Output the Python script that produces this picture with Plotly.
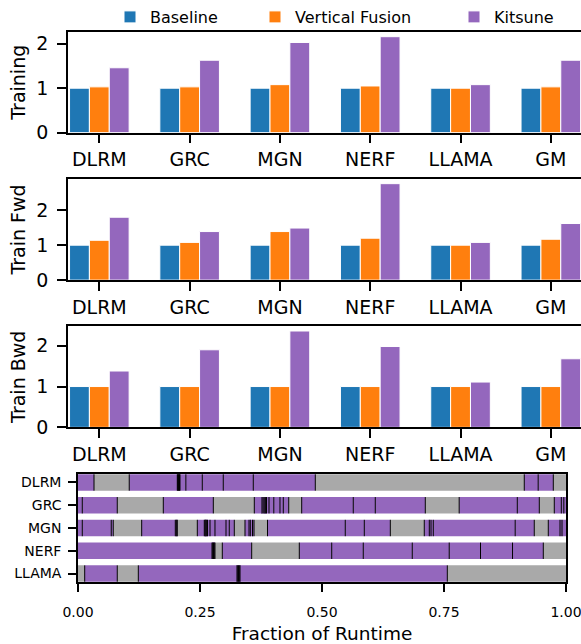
import plotly.graph_objects as go

# ---------------- data ----------------
models = ["DLRM", "GRC", "MGN", "NERF", "LLAMA", "GM"]
series = ["Baseline", "Vertical Fusion", "Kitsune"]

training_baseline = [1.00, 1.00, 1.00, 1.00, 1.00, 1.00]
training_vfusion = [1.03, 1.03, 1.08, 1.05, 1.00, 1.03]
training_kitsune = [1.46, 1.63, 2.03, 2.16, 1.08, 1.63]

fwd_baseline = [1.00, 1.00, 1.00, 1.00, 1.00, 1.00]
fwd_vfusion = [1.14, 1.08, 1.39, 1.20, 1.00, 1.17]
fwd_kitsune = [1.80, 1.39, 1.49, 2.76, 1.08, 1.62]

bwd_baseline = [1.00, 1.00, 1.00, 1.00, 1.00, 1.00]
bwd_vfusion = [1.00, 1.00, 1.00, 1.00, 1.00, 1.00]
bwd_kitsune = [1.38, 1.90, 2.36, 1.98, 1.11, 1.68]

panel_titles = ["Training", "Train Fwd", "Train Bwd"]
bar_yticks = [0, 1, 2]

# Runtime timeline: segment end points (fraction of runtime) and kind
# P = fused (Kitsune) region, G = other region
timeline_rows = ["DLRM", "GRC", "MGN", "NERF", "LLAMA"]
dlrm_ends = [0.0328, 0.105, 0.2035, 0.2046, 0.2057, 0.2068, 0.2079, 0.209,
             0.221, 0.2547, 0.2977, 0.3592, 0.4863, 0.9145, 0.943, 0.974, 1.0]
dlrm_kinds = "PGPPPPPPPPPPPGPPG"
grc_ends = [0.0088, 0.0805, 0.1748, 0.2773, 0.3613, 0.377, 0.3793, 0.3816,
            0.384, 0.3863, 0.3914, 0.4012, 0.4139, 0.4207, 0.4318, 0.4584,
            0.5641, 0.6092, 0.7117, 0.7811, 0.9002, 0.9453, 0.976, 0.9904,
            0.9955, 1.0]
grc_kinds = "PPGPGPPPPPPPPPPGPPPGPPGPPP"
mgn_ends = [0.0088, 0.0682, 0.0723, 0.1305, 0.1994, 0.2015, 0.2035, 0.2445,
            0.2588, 0.2605, 0.2621, 0.2638, 0.2654, 0.2705, 0.2807, 0.3033,
            0.3100, 0.3203, 0.3422, 0.3504, 0.3531, 0.3576, 0.3607, 0.3883,
            0.5477, 0.5867, 0.6400, 0.7096, 0.7199, 0.7234, 0.7281, 0.8959,
            0.9350, 0.9637, 0.9877, 0.9918, 1.0]
mgn_kinds = "PPPGPPPGPPPPPPPPPPGPPPPGPPPGPPPPPGPPP"
nerf_ends = [0.2746, 0.2761, 0.2776, 0.2792, 0.2807, 0.2957, 0.3559, 0.4535,
             0.5199, 0.5846, 0.6850, 0.7607, 0.8248, 0.8904, 0.9535, 1.0]
nerf_kinds = "PPPPPGPGPPPPPPPG"
llama_ends = [0.0137, 0.0805, 0.1236, 0.3258, 0.3274, 0.329, 0.3305, 0.332,
              0.7568, 1.0]
llama_kinds = "GPGPPPPPPG"
timeline_ticks = [0.0, 0.25, 0.5, 0.75, 1.0]

# ---------------- style ----------------
FONT = "DejaVu Sans"
W, H = 581, 644
series_colors = ["#1f77b4", "#ff7f0e", "#9467bd"]
kind_colors = {"P": "#9467bd", "G": "#a9a9a9"}
bar_offsets = [-0.33, -0.11, 0.11]
bar_width = 0.22
legend_ids = ["legend", "legend2", "legend3"]
legend_left_px = [110, 255, 454]

panel_px = [(30, 131), (177.4, 279), (325.2, 426.7)]
timeline_px = (473.3, 582)


def ydom(top, bottom):
    return [1 - bottom / H, 1 - top / H]


fig = go.Figure()

panels = [
    [training_baseline, training_vfusion, training_kitsune],
    [fwd_baseline, fwd_vfusion, fwd_kitsune],
    [bwd_baseline, bwd_vfusion, bwd_kitsune],
]

layout = dict(
    width=W, height=H, autosize=False,
    margin=dict(l=0, r=0, t=0, b=0, pad=0),
    paper_bgcolor="white", plot_bgcolor="white",
    font=dict(family=FONT, color="black"),
    showlegend=True,
)

for p, vals in enumerate(panels):
    sfx = "" if p == 0 else str(p + 1)
    for s in range(3):
        fig.add_trace(go.Bar(
            x=models, y=vals[s], name=series[s],
            marker=dict(color=series_colors[s], line=dict(color="white", width=1)),
            width=bar_width, offset=bar_offsets[s],
            xaxis="x" + sfx, yaxis="y" + sfx,
            showlegend=(p == 0), legend=legend_ids[s],
        ))
    ymax = max(max(v) for v in vals) * 1.05
    top, bottom = panel_px[p]
    layout["xaxis" + sfx] = dict(
        domain=[68 / W, 1.0], anchor="y" + sfx, type="category",
        range=[-0.347, 5.334], ticks="outside", ticklen=9, tickwidth=1.5,
        tickcolor="black", showline=True, mirror=True, linewidth=1.5,
        linecolor="black", showgrid=False, zeroline=False,
        tickfont=dict(size=19), automargin=False,
    )
    layout["yaxis" + sfx] = dict(
        domain=ydom(top, bottom), anchor="x" + sfx, range=[0, ymax],
        tickvals=bar_yticks, ticks="outside", ticklen=9, tickwidth=1.5,
        tickcolor="black", showline=True, linewidth=1.5, linecolor="black",
        showgrid=False, zeroline=False, tickfont=dict(size=19),
        ticklabelstandoff=5, automargin=False,
        title=dict(text=panel_titles[p], font=dict(size=19), standoff=6),
    )

# timeline
seg_y, seg_x, seg_base, seg_color = [], [], [], []
line_x, line_y = [], []
for r, (ends, kinds) in enumerate([(dlrm_ends, dlrm_kinds), (grc_ends, grc_kinds),
                                   (mgn_ends, mgn_kinds), (nerf_ends, nerf_kinds),
                                   (llama_ends, llama_kinds)]):
    start = 0.0
    for end, kind in zip(ends, kinds):
        seg_y.append(r)
        seg_base.append(start)
        seg_x.append(end - start)
        seg_color.append(kind_colors[kind])
        start = end
    for b in ends[:-1]:
        line_x += [b, b, None]
        line_y += [r - 0.36, r + 0.36, None]

fig.add_trace(go.Bar(
    orientation="h", y=seg_y, x=seg_x, base=seg_base, width=0.72,
    marker=dict(color=seg_color, line=dict(width=0)),
    xaxis="x4", yaxis="y4", showlegend=False, hoverinfo="skip",
))
fig.add_trace(go.Scatter(
    x=line_x, y=line_y, mode="lines", line=dict(color="black", width=1),
    xaxis="x4", yaxis="y4", showlegend=False, hoverinfo="skip",
))

layout["xaxis4"] = dict(
    domain=[78 / W, 566 / W], anchor="y4", range=[0, 1],
    tickvals=timeline_ticks, tickformat=".2f", ticks="outside", ticklen=8,
    tickwidth=1.5, tickcolor="black", showline=True, mirror=True,
    linewidth=1.5, linecolor="black", showgrid=False, zeroline=False,
    tickfont=dict(size=14), ticklabelstandoff=8, ticklabeloverflow="allow",
    automargin=False,
    title=dict(text="Fraction of Runtime", font=dict(size=18.5), standoff=14),
)
layout["yaxis4"] = dict(
    domain=ydom(*timeline_px), anchor="x4", range=[4.38, -0.38],
    tickvals=list(range(len(timeline_rows))), ticktext=timeline_rows,
    ticks="outside", ticklen=8, tickwidth=1.5, tickcolor="black",
    showline=True, mirror=True, linewidth=1.5, linecolor="black",
    showgrid=False, zeroline=False, tickfont=dict(size=14),
    ticklabelstandoff=4, automargin=False,
)

for lid, lx in zip(legend_ids, legend_left_px):
    layout[lid] = dict(
        x=lx / W, y=1 - 15 / H, xref="paper", yref="paper",
        xanchor="left", yanchor="middle", orientation="h",
        font=dict(size=16, color="black"), bgcolor="rgba(0,0,0,0)",
        borderwidth=0,
    )

fig.update_layout(**layout)
fig.write_html("out.html")
